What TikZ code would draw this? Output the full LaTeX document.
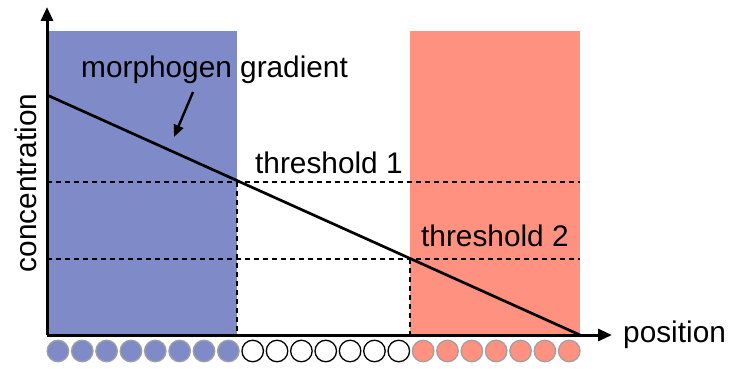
\documentclass[tikz,border=0pt]{standalone}
\usepackage{fontspec}
\setmainfont{Liberation Sans}
\usetikzlibrary{arrows.meta}
\definecolor{mblue}{RGB}{127,139,200}
\definecolor{mred}{RGB}{255,145,128}
\definecolor{cgray}{RGB}{160,160,160}
\tikzset{
  axisline/.style={line width=3pt,-{Triangle[length=14pt,width=12pt]}},
  gradline/.style={line width=2.7pt},
  thresh/.style={line width=2.3pt,dash pattern=on 5pt off 4pt},
  lbl/.style={font=\fontsize{29.8}{35}\selectfont,inner sep=0pt},
  cellb/.style={circle,minimum size=21.5pt,inner sep=0pt,fill=mblue,draw=cgray,line width=1.3pt},
  cellw/.style={circle,minimum size=21.5pt,inner sep=0pt,fill=white,draw=black,line width=1.3pt},
  cellr/.style={circle,minimum size=21.5pt,inner sep=0pt,fill=mred,draw=cgray,line width=1.3pt},
}
\begin{document}
\begin{tikzpicture}[x=1pt,y=-1pt]
\useasboundingbox (0,0) rectangle (732,369);
% regions
\fill[mblue] (47,31) rectangle (237,335);
\fill[mred] (410,31) rectangle (580,335);
% coordinates
\coordinate (O) at (47,335);
\coordinate (ytop) at (47,7);
\coordinate (xend) at (612,335);
\coordinate (gs) at (47,95);
\coordinate (ge) at (580,335);
\coordinate (t1a) at (47,182);
\coordinate (t1b) at (580,182);
\coordinate (t2a) at (47,259);
\coordinate (t2b) at (580,259);
\coordinate (v1t) at (237,182);
\coordinate (v1b) at (237,335);
\coordinate (v2t) at (410,259);
\coordinate (v2b) at (410,335);
% threshold lines
\draw[thresh] (t1a) -- (t1b);
\draw[thresh] (t2a) -- (t2b);
\draw[thresh] (v1t) -- (v1b);
\draw[thresh] (v2t) -- (v2b);
% gradient
\draw[gradline] (gs) -- (ge);
% axes
\draw[axisline] (O) -- (ytop);
\draw[axisline] (O) -- (xend);
% labels
\node[lbl,anchor=base west] (mg) at (81,78) {morphogen gradient};
\coordinate (aS) at (193,92);
\coordinate (aE) at (174,137);
\draw[line width=2.4pt,-{Triangle[length=12pt,width=10pt]}] (aS) -- (aE);
\node[lbl,anchor=base west] (th1) at (255,173) {threshold 1};
\node[lbl,anchor=base west] (th2) at (421,246) {threshold 2};
\node[lbl,anchor=base west] (pos) at (623,342) {position};
\node[lbl,anchor=base,rotate=90] (conc) at (37,183) {concentration};
% cells
\foreach \i in {0,...,7} {\node[cellb] (b\i) at ({57.9+\i*24.35},351) {};}
\foreach \i in {8,...,14} {\node[cellw] (w\i) at ({57.9+\i*24.35},351) {};}
\foreach \i in {15,...,21} {\node[cellr] (r\i) at ({57.9+\i*24.35},351) {};}
\end{tikzpicture}
\end{document}
